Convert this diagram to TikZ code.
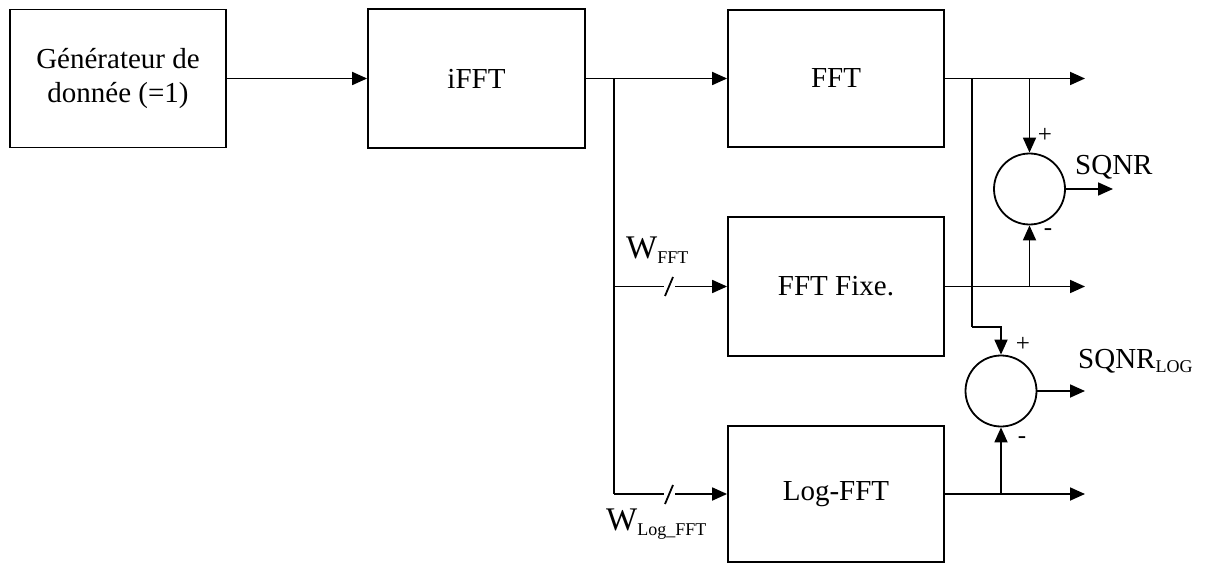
\documentclass[tikz,border=0pt]{standalone}
\usepackage{fontspec}
\setmainfont{Liberation Serif}
\usetikzlibrary{arrows.meta,calc}
\tikzset{
  blk/.style={draw, line width=1.8pt, rectangle, minimum width=216pt, inner sep=0pt,
    font=\fontsize{29}{34}\selectfont, align=center},
  summer/.style={draw, line width=1.8pt, circle, minimum size=71pt, inner sep=0pt},
  wire/.style={line width=1.8pt},
  arr/.style={wire, -{Triangle[length=15pt,width=13pt]}},
  lbl/.style={font=\fontsize{29}{34}\selectfont, inner sep=0pt},
  wlbl/.style={font=\fontsize{33}{36}\selectfont, inner sep=0pt},
  sgn/.style={font=\fontsize{25}{25}\selectfont, inner sep=0pt},
}
\newcommand{\smallsub}[1]{\raisebox{-0.35ex}{\fontsize{18}{18}\selectfont #1}}
\begin{document}
\begin{tikzpicture}[x=1pt,y=-1pt]
\useasboundingbox (0,0) rectangle (1207,564);
% blocks
\node[blk, minimum height=138pt] (gen) at (118,78.5) {Générateur de\\donnée (=1)};
\node[blk, minimum height=139pt, minimum width=217pt] (ifft) at (476.5,78.5) {iFFT};
\node[blk, minimum height=137pt] (fft) at (836,78.5) {FFT};
\node[blk, minimum height=139pt] (fixe) at (836,286.5) {FFT Fixe.};
\node[blk, minimum height=136pt] (logfft) at (836,494) {Log-FFT};
% summers
\node[summer] (s1) at (1029.5,189) {};
\node[summer] (s2) at (1001,391) {};
% coordinates
\coordinate (j1) at (614,78.5);
\coordinate (o1) at (1085,78.5);
\coordinate (o2) at (1085,286.5);
\coordinate (o3) at (1085,494);
\coordinate (o4) at (1113,189);
\coordinate (o5) at (1085,391);
\coordinate (v1) at (972,78.5);
\coordinate (v1b) at (972,327);
% connectors
\draw[arr] (gen.east) -- (ifft.west);
\draw[arr] (ifft.east) -- (fft.west);
\draw[wire] (j1) -- (j1 |- logfft.west);
\draw[arr] (j1 |- fixe.west) -- (fixe.west);
\draw[arr] (j1 |- logfft.west) -- (logfft.west);
% bus slashes
\draw[white, line width=3pt] (664,286.5) -- (675,286.5);
\draw[white, line width=3pt] (664,494) -- (675,494);
\draw[wire] (665,296) -- (673,277);
\draw[wire] (665,504) -- (673,485);
% outputs
\draw[arr] (fft.east) -- (o1);
\draw[arr] (fixe.east) -- (o2);
\draw[arr] (logfft.east) -- (o3);
\draw[arr] (s1 |- fft.east) -- (s1.north);
\draw[arr] (s1 |- fixe.east) -- (s1.south);
\draw[arr] (s1.east) -- (o4);
\draw[wire] (v1) -- (v1b);
\draw[arr] (v1b) -| (s2.north);
\draw[arr] (s2 |- logfft.east) -- (s2.south);
\draw[arr] (s2.east) -- (o5);
% labels
\node[sgn] (p1) at (1045,135) {+};
\node[sgn] (m1) at (1048,232) {-};
\node[sgn] (p2) at (1023,344) {+};
\node[sgn] (m2) at (1022,440) {-};
\node[lbl, anchor=base west] (sq1) at (1075,175) {SQNR};
\node[lbl, anchor=base west] (sq2) at (1078,368) {SQNR\smallsub{LOG}};
\node[wlbl, anchor=base west] (w1) at (626,258) {W\smallsub{FFT}};
\node[wlbl, anchor=base west] (w2) at (606,530) {W\smallsub{Log\_FFT}};
\end{tikzpicture}
\end{document}
